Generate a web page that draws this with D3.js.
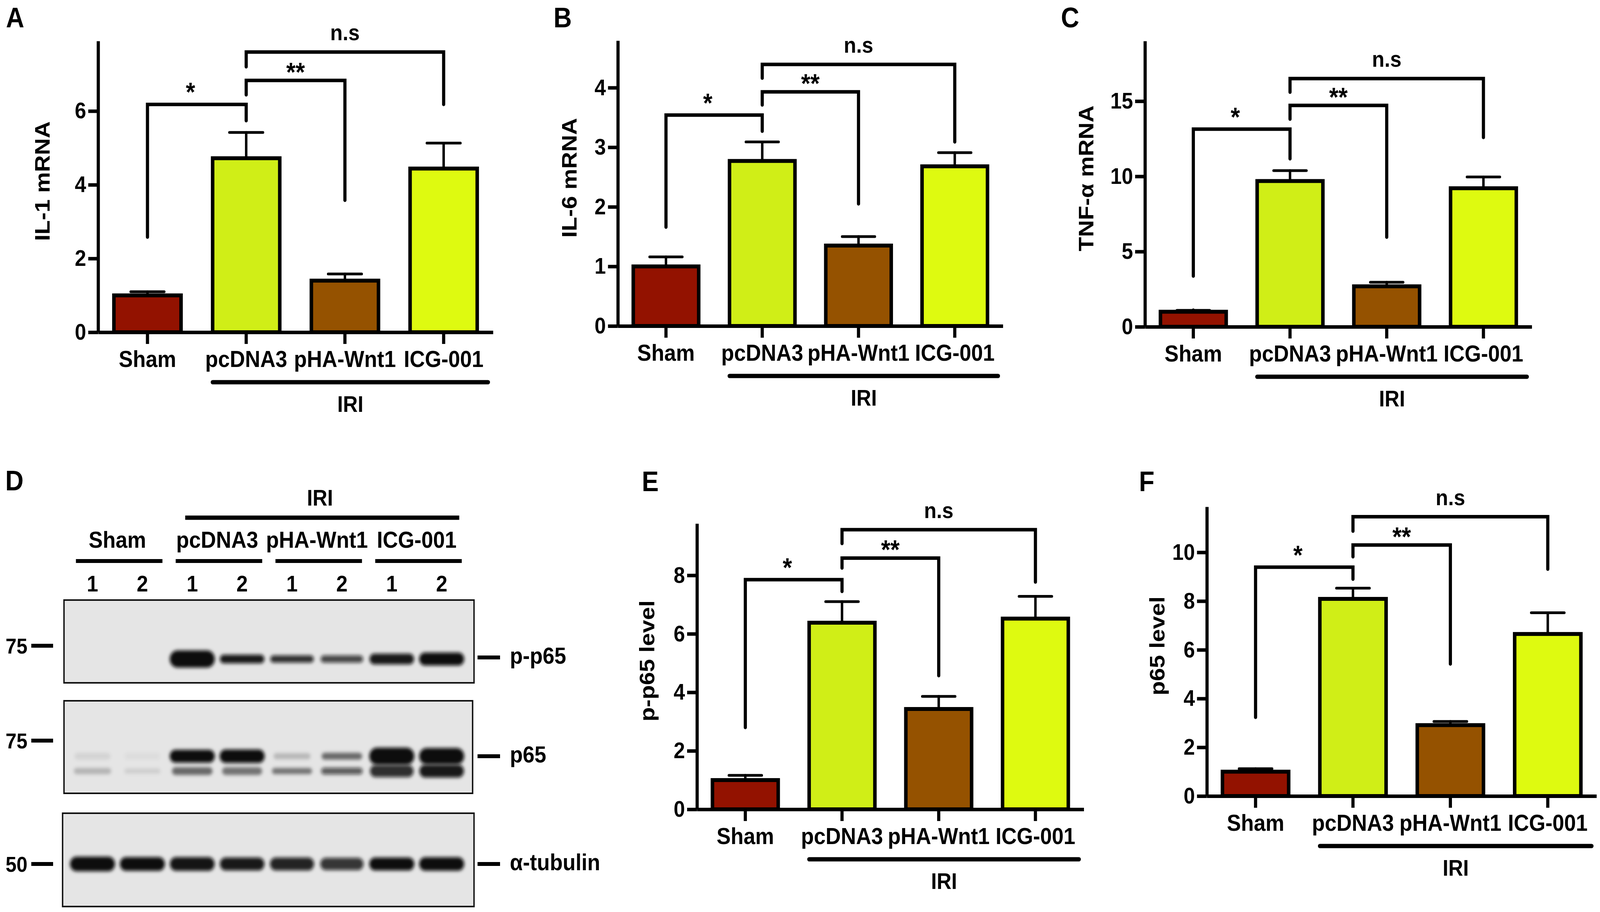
<!DOCTYPE html>
<html>
<head>
<meta charset="utf-8">
<script src="https://cdn.jsdelivr.net/npm/d3@7/dist/d3.min.js"></script>
<style>
  html, body { margin: 0; width: 100%; height: 100%; overflow: hidden; background: #fff; }
  svg { display: block; }
  text { font-family: "Liberation Sans", Arial, sans-serif; font-weight: bold; fill: #000; }
</style>
</head>
<body>
<script>
const WIDTH = 4550;
const HEIGHT = 2336;

// ---- data ----
const groups = ["Sham", "pcDNA3", "pHA-Wnt1", "ICG-001"];
const barColors = ["#931200", "#d0ee17", "#955200", "#defa10"];

const il1Mean = [1.00, 4.72, 1.40, 4.44];
const il1Sem  = [0.10, 0.70, 0.18, 0.69];
const il1Ticks = [0, 2, 4, 6];

const il6Mean = [1.00, 2.77, 1.35, 2.68];
const il6Sem  = [0.16, 0.32, 0.15, 0.23];
const il6Ticks = [0, 1, 2, 3, 4];

const tnfMean = [1.00, 9.69, 2.69, 9.21];
const tnfSem  = [0.09, 0.69, 0.27, 0.75];
const tnfTicks = [0, 5, 10, 15];

const pp65Mean = [1.00, 6.38, 3.43, 6.52];
const pp65Sem  = [0.16, 0.72, 0.43, 0.76];
const pp65Ticks = [0, 2, 4, 6, 8];

const p65Mean = [1.00, 8.09, 2.91, 6.65];
const p65Sem  = [0.12, 0.44, 0.15, 0.87];
const p65Ticks = [0, 2, 4, 6, 8, 10];

// brackets: [from group, to group, top, left leg end, right leg end, label]
const il1Sig  = [[0, 1, 6.18, 2.58, 5.74, "*"], [1, 2, 6.83, 6.44, 3.58, "**"], [1, 3, 7.60, 7.20, 6.18, "n.s"]];
const il6Sig  = [[0, 1, 3.54, 1.66, 3.27, "*"], [1, 2, 3.93, 3.71, 2.05, "**"], [1, 3, 4.39, 4.16, 3.09, "n.s"]];
const tnfSig  = [[0, 1, 13.14, 3.37, 11.17, "*"], [1, 2, 14.72, 13.81, 5.96, "**"], [1, 3, 16.5, 15.6, 12.59, "n.s"]];
const pp65Sig = [[0, 1, 7.85, 2.80, 7.45, "*"], [1, 2, 8.59, 8.25, 4.57, "**"], [1, 3, 9.56, 9.09, 7.77, "n.s"]];
const p65Sig  = [[0, 1, 9.39, 3.23, 8.90, "*"], [1, 2, 10.30, 9.82, 5.42, "**"], [1, 3, 11.46, 10.87, 9.31, "n.s"]];

// western blot (panel D): [intensity, relative thickness] per lane
const laneNums = ["1", "2", "1", "2", "1", "2", "1", "2"];
const pp65Bands   = [[0, 0], [0, 0], [1, 1], [0.95, 0.5], [0.85, 0.42], [0.75, 0.42], [0.95, 0.62], [1, 0.75]];
const p65Upper    = [[0.08, 0.4], [0.04, 0.4], [1, 0.75], [1, 0.78], [0.2, 0.35], [0.55, 0.4], [1, 1], [1, 0.95]];
const p65Lower    = [[0.22, 0.35], [0.1, 0.3], [0.55, 0.45], [0.5, 0.45], [0.5, 0.35], [0.65, 0.4], [0.85, 0.7], [0.95, 0.75]];
const tubBands    = [[1, 0.85], [1, 0.8], [0.97, 0.8], [0.95, 0.75], [0.9, 0.75], [0.82, 0.72], [1, 0.75], [1, 0.78]];
const markerKDa = ["75", "75", "50"];
const blotNames = ["p-p65", "p65", "α-tubulin"];

// ---- layout ----
// the figure is stretched to fill the whole window
const svg = d3.select("body").append("svg")
    .attr("width", "100%")
    .attr("height", "100%")
    .attr("viewBox", [0, 0, WIDTH, HEIGHT])
    .attr("preserveAspectRatio", "none");

svg.append("defs").append("filter")
    .attr("id", "blur")
    .attr("x", "-30%").attr("y", "-100%")
    .attr("width", "160%").attr("height", "300%")
    .append("feGaussianBlur")
    .attr("stdDeviation", 5);

const panels = [
    { letter: "A", lx: 17,   ly: 70,   x0: 279,  x1: 1402, y0: 851,  y1: 105,  max: 7.9,  ticks: il1Ticks,  title: "IL-1 mRNA",   tOff: 159, mean: il1Mean,  sem: il1Sem,  sig: il1Sig },
    { letter: "B", lx: 1574, ly: 70,   x0: 1757, x1: 2852, y0: 835,  y1: 104,  max: 4.79, ticks: il6Ticks,  title: "IL-6 mRNA",   tOff: 138, mean: il6Mean,  sem: il6Sem,  sig: il6Sig },
    { letter: "C", lx: 3017, ly: 70,   x0: 3256, x1: 4356, y0: 837,  y1: 105,  max: 19,   ticks: tnfTicks,  title: "TNF-α mRNA",  tOff: 168, mean: tnfMean,  sem: tnfSem,  sig: tnfSig },
    { letter: "E", lx: 1825, ly: 1258, x0: 1982, x1: 3082, y0: 2073, y1: 1341, max: 9.77, ticks: pp65Ticks, title: "p-p65 level", tOff: 142, mean: pp65Mean, sem: pp65Sem, sig: pp65Sig },
    { letter: "F", lx: 3239, ly: 1258, x0: 3432, x1: 4540, y0: 2039, y1: 1298, max: 11.87, ticks: p65Ticks, title: "p65 level",   tOff: 142, mean: p65Mean,  sem: p65Sem,  sig: p65Sig }
];

function drawBarPanel (p) {
    const g = svg.append("g");
    const x = d3.scaleBand().domain(groups).range([p.x0, p.x1]).paddingInner(0.32).paddingOuter(0.16);
    const y = d3.scaleLinear().domain([0, p.max]).range([p.y0, p.y1]);
    const bw = x.bandwidth();
    const cx = i => x(groups[i]) + bw / 2;

    // panel letter
    g.append("text").attr("x", p.lx).attr("y", p.ly).style("font-size", "72px").text(p.letter);

    // bars
    g.selectAll("rect.bar").data(groups).join("rect")
        .attr("class", "bar")
        .attr("x", d => x(d))
        .attr("width", bw)
        .attr("y", (d, i) => y(p.mean[i]))
        .attr("height", (d, i) => y(0) - y(p.mean[i]))
        .style("fill", (d, i) => barColors[i])
        .style("stroke", "#000")
        .style("stroke-width", 10);

    // error bars (upper only)
    const err = g.selectAll("g.err").data(groups).join("g").attr("class", "err");
    err.append("line")
        .attr("x1", (d, i) => cx(i)).attr("x2", (d, i) => cx(i))
        .attr("y1", (d, i) => y(p.mean[i]) - 5)
        .attr("y2", (d, i) => y(p.mean[i] + p.sem[i]));
    err.append("line")
        .attr("x1", (d, i) => cx(i) - bw / 4).attr("x2", (d, i) => cx(i) + bw / 4)
        .attr("y1", (d, i) => y(p.mean[i] + p.sem[i]))
        .attr("y2", (d, i) => y(p.mean[i] + p.sem[i]));
    err.selectAll("line").style("stroke", "#000").style("stroke-width", 7).style("stroke-linecap", "round");

    // axes
    const yAxis = g.append("g").attr("transform", `translate(${p.x0},0)`)
        .call(d3.axisLeft(y).tickValues(p.ticks).tickFormat(d3.format("d"))
            .tickSize(28).tickSizeOuter(0).tickPadding(6));
    const xAxis = g.append("g").attr("transform", `translate(0,${p.y0})`)
        .call(d3.axisBottom(x).tickSize(30).tickSizeOuter(0).tickPadding(16));
    [yAxis, xAxis].forEach(a => {
        a.select(".domain").style("stroke", "#000").style("stroke-width", 9);
        a.selectAll(".tick line").style("stroke", "#000").style("stroke-width", 9);
        a.selectAll(".tick text").attr("font-family", null).attr("font-size", null);
    });
    yAxis.selectAll(".tick text").style("font-size", "58px");
    xAxis.selectAll(".tick text").style("font-size", "60px");

    // y title
    g.append("text")
        .attr("transform", `translate(${p.x0 - p.tOff},${(p.y0 + p.y1) / 2 - 14}) rotate(-90)`)
        .attr("text-anchor", "middle")
        .attr("dominant-baseline", "central")
        .style("font-size", "60px")
        .text(p.title);

    // significance brackets
    const br = g.selectAll("g.sig").data(p.sig).join("g").attr("class", "sig");
    br.append("path")
        .attr("d", d => `M${cx(d[0])},${y(d[3])}V${y(d[2])}H${cx(d[1])}V${y(d[4])}`)
        .style("fill", "none")
        .style("stroke", "#000")
        .style("stroke-width", 9)
        .style("stroke-linecap", "round");
    br.append("text")
        .attr("x", d => (cx(d[0]) + cx(d[1])) / 2 - (d[5] === "*" ? 18 : 0))
        .attr("y", d => y(d[2]) - (d[5] === "n.s" ? 30 : d[5] === "*" ? 8 : -2))
        .attr("text-anchor", "middle")
        .style("font-size", d => d[5] === "n.s" ? "58px" : "68px")
        .text(d => d[5]);

    // IRI group line
    const ix0 = x(groups[1]);
    const ix1 = x(groups[3]) + bw + x.step() * 0.11;
    g.append("line")
        .attr("x1", ix0).attr("x2", ix1)
        .attr("y1", p.y0 + 128).attr("y2", p.y0 + 128)
        .style("stroke", "#000").style("stroke-width", 11).style("stroke-linecap", "round");
    g.append("text")
        .attr("x", (ix0 + ix1) / 2).attr("y", p.y0 + 204)
        .attr("text-anchor", "middle")
        .style("font-size", "58px")
        .text("IRI");
}

panels.forEach(drawBarPanel);

// ---- panel D : western blots ----
function drawBlots () {
    const g = svg.append("g");
    const lane = d3.scalePoint().domain(d3.range(8)).range([263, 1256]);
    const thick = d3.scaleLinear().domain([0, 1]).range([0, 44]);
    const bandW = d3.scaleLinear().domain([0, 1]).range([100, 128]);

    g.append("text").attr("x", 15).attr("y", 1256).style("font-size", "72px").text("D");

    // IRI header
    g.append("text").attr("x", 910).attr("y", 1295).attr("text-anchor", "middle")
        .style("font-size", "58px").text("IRI");
    g.append("line").attr("x1", lane(2) - 20).attr("x2", lane(7) + 50)
        .attr("y1", 1326).attr("y2", 1326)
        .style("stroke", "#000").style("stroke-width", 11);

    // group labels with underlines
    const gc = i => (lane(2 * i) + lane(2 * i + 1)) / 2;
    g.selectAll("text.grp").data(groups).join("text")
        .attr("class", "grp")
        .attr("x", (d, i) => gc(i)).attr("y", 1403)
        .attr("text-anchor", "middle")
        .style("font-size", "60px")
        .text(d => d);
    g.selectAll("line.grp").data(groups).join("line")
        .attr("class", "grp")
        .attr("x1", (d, i) => gc(i) + 5 - 123).attr("x2", (d, i) => gc(i) + 5 + 123)
        .attr("y1", 1437).attr("y2", 1437)
        .style("stroke", "#000").style("stroke-width", 10);

    // lane numbers
    g.selectAll("text.lane").data(laneNums).join("text")
        .attr("class", "lane")
        .attr("x", (d, i) => lane(i)).attr("y", 1515)
        .attr("text-anchor", "middle")
        .style("font-size", "58px")
        .text(d => d);

    const blots = [
        { x: 182, y: 1537, w: 1166, h: 212, markY: 1654, labY: 1684, rows: [{ y: 1688, data: pp65Bands }] },
        { x: 182, y: 1795, w: 1162, h: 237, markY: 1897, labY: 1937, rows: [{ y: 1937, data: p65Upper }, { y: 1975, data: p65Lower }] },
        { x: 178, y: 2083, w: 1170, h: 239, markY: 2213, labY: 2213, rows: [{ y: 2213, data: tubBands }] }
    ];

    blots.forEach((b, k) => {
        g.append("rect")
            .attr("x", b.x).attr("y", b.y).attr("width", b.w).attr("height", b.h)
            .style("fill", "#e5e5e5").style("stroke", "#111").style("stroke-width", 4);

        b.rows.forEach(row => {
            g.append("g").attr("filter", "url(#blur)")
                .selectAll("rect").data(row.data).join("rect")
                .attr("x", (d, i) => lane(i) - bandW(d[0]) / 2)
                .attr("width", d => bandW(d[0]))
                .attr("y", d => row.y - thick(d[1]) / 2)
                .attr("height", d => thick(d[1]))
                .attr("rx", d => thick(d[1]) / 2)
                .style("fill", "#0b0b0b")
                .style("fill-opacity", d => d[0]);
        });

        // molecular weight marker
        g.append("text").attr("x", 78).attr("y", b.markY + 20).attr("text-anchor", "end")
            .style("font-size", "56px").text(markerKDa[k]);
        g.append("line").attr("x1", 89).attr("x2", 151).attr("y1", b.markY).attr("y2", b.markY)
            .style("stroke", "#000").style("stroke-width", 10);

        // protein label
        g.append("line").attr("x1", 1358).attr("x2", 1422).attr("y1", b.labY).attr("y2", b.labY)
            .style("stroke", "#000").style("stroke-width", 10);
        g.append("text").attr("x", 1450).attr("y", b.labY + 16)
            .style("font-size", "60px").text(blotNames[k]);
    });
}

drawBlots();
</script>
</body>
</html>
